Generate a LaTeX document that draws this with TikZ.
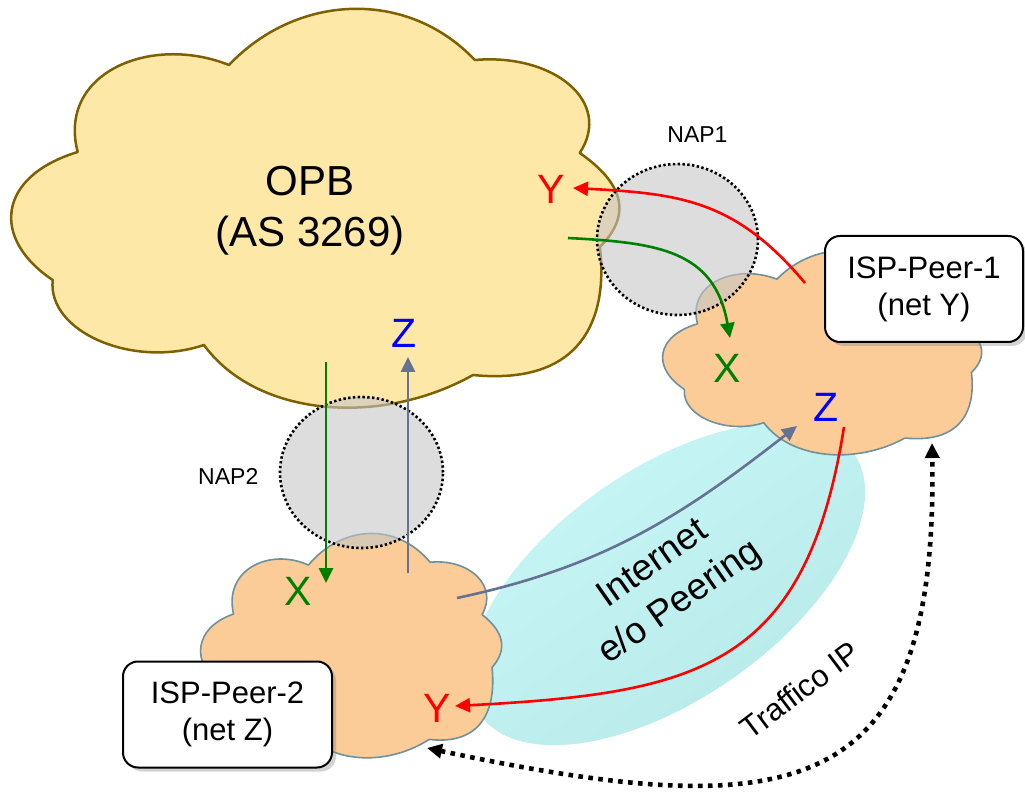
\documentclass[tikz,border=0pt]{standalone}
\usepackage{fontspec}
\setmainfont{Liberation Sans}
\usetikzlibrary{arrows.meta,positioning,shapes.geometric,shadows}
\definecolor{opbfill}{RGB}{254,232,168}
\definecolor{opbline}{RGB}{127,96,0}
\definecolor{peerfill}{RGB}{251,203,152}
\definecolor{peerline}{RGB}{110,145,155}
\definecolor{napgray}{RGB}{198,198,198}
\definecolor{cyanlight}{RGB}{200,247,247}
\definecolor{cyandark}{RGB}{184,233,233}
\definecolor{darkgreen}{RGB}{0,128,0}
\definecolor{slateblue}{RGB}{102,114,148}

% cloud outline in a 100x100 box, y pointing down
\newcommand{\cloudoutline}{(11.1,36) .. controls (7.7,16.2) and (23.1,6.45) .. (35.9,14.25)
  .. controls (47.0,-3.6) and (65.1,-4.9) .. (76.2,13)
  .. controls (89.1,11.3) and (98.9,23.4) .. (93.4,36.25)
  .. controls (100.3,43.55) and (102.2,51.35) .. (96.7,59.75)
  .. controls (98.1,77.75) and (93.7,94.45) .. (75.9,91.75)
  .. controls (60.7,104.75) and (40.4,102.25) .. (31.8,84.25)
  .. controls (20.2,90.2) and (6.1,81) .. (7,68)
  .. controls (-3.15,57.7) and (-2.1,42.1) .. (11.1,36) -- cycle}

\begin{document}
\begin{tikzpicture}[x=0.5pt, y=0.5pt, >={Triangle[length=7.5pt,width=7pt]}, line join=round,]
   \tikzstyle{opbcloud}=[fill=opbfill, draw=opbline, line width=1.25pt]
   \tikzstyle{peercloud}=[fill=peerfill, draw=peerline, line width=.8pt]
   \tikzstyle{nap}=[ellipse, inner sep=0pt, fill=napgray, fill opacity=.6, draw=black, line width=1.3pt, dash pattern=on 1.2pt off 1.2pt, minimum width=80.5pt, minimum height=75.5pt]
   \tikzstyle{naplbl}=[inner sep=0pt, font=\fontsize{11.5pt}{14pt}\selectfont]
   \tikzstyle{net}=[inner sep=0pt, font=\fontsize{20.5pt}{24pt}\selectfont]
   \tikzstyle{isp}=[rectangle, rounded corners=7.5pt, draw=black, line width=1pt, fill=white, drop shadow={opacity=.35, shadow xshift=2pt, shadow yshift=-2pt}, align=center, font=\fontsize{15.5pt}{18.5pt}\selectfont, minimum height=53pt]
   \tikzstyle{flow}=[->, line width=1.3pt]

   \useasboundingbox (0,0) rectangle (1025,-797);

   % peering area
   \node[ellipse, rotate=35, minimum width=228pt, minimum height=115pt, top color=cyanlight, bottom color=cyandark, shading angle=35, align=center, font=\fontsize{18.5pt}{23.5pt}\selectfont] (peering) at (667,-584) {Internet\\e/o Peering};

   % clouds
   \begin{scope}[shift={(10,-8)}, xscale=6.1, yscale=-4]
     \draw[opbcloud] \cloudoutline;
   \end{scope}
   \begin{scope}[shift={(662,-250)}, xscale=3.2, yscale=-2.05]
     \draw[peercloud] \cloudoutline;
   \end{scope}
   \begin{scope}[shift={(200,-533)}, xscale=3.02, yscale=-2.25]
     \draw[peercloud] \cloudoutline;
   \end{scope}

   % exchange points
   \node[nap] (nap1) at (677.5,-239.5) {};
   \node[nap, minimum width=81.5pt] (nap2) at (361.5,-472.5) {};
   \node[naplbl, above=10pt of nap1, xshift=10pt] (nap1lbl) {NAP1};
   \node[naplbl, left=10pt of nap2, yshift=-2pt] (nap2lbl) {NAP2};

   % route ends
   \coordinate (gs1) at (568,-238);
   \coordinate (ge1) at (730,-338);
   \coordinate (rs1) at (805,-283);
   \coordinate (re1) at (573,-188);
   \coordinate (gs2) at (326,-362);
   \coordinate (ge2) at (326,-583);
   \coordinate (bs2) at (408,-573);
   \coordinate (be2) at (408,-357);
   \coordinate (bs3) at (457,-598);
   \coordinate (be3) at (797,-426);
   \coordinate (rs3) at (844,-427);
   \coordinate (re3) at (455,-706);
   \coordinate (tr2) at (427,-748);
   \coordinate (tr1) at (932,-443);

   \draw[flow, red] (rs1) to[out=130, in=-3, looseness=1.1] (re1);
   \draw[flow, darkgreen] (gs1) to[out=-3, in=100, looseness=1.2] (ge1);
   \draw[flow, darkgreen] (gs2) -- (ge2);
   \draw[flow, slateblue] (bs2) -- (be2);
   \draw[flow, slateblue] (bs3) to[out=12, in=218] (be3);
   \draw[flow, red] (rs3) to[out=-99, in=3, looseness=1.3] (re3);
   \draw[<->, line width=2.3pt, dash pattern=on 2.3pt off 2.7pt] (tr2) to[out=-12, in=-89, out distance=191pt, in distance=178pt] (tr1);

   % texts
   \node[align=center, font=\fontsize{21pt}{25.5pt}\selectfont] (opb) at (310,-211) {OPB\\(AS 3269)};
   \node[net, red] (yopb) at (551,-189) {Y};
   \node[net, blue] (zopb) at (404,-333) {Z};
   \node[net, darkgreen] (xpeer1) at (727,-368) {X};
   \node[net, blue] (zpeer1) at (826,-407) {Z};
   \node[net, darkgreen] (xpeer2) at (298,-591) {X};
   \node[net, red] (ypeer2) at (437,-708) {Y};
   \node[rotate=37, font=\fontsize{15.5pt}{18pt}\selectfont] (traffico) at (800,-690) {Traffico IP};

   \node[isp, minimum width=99pt] (isp1) at (924,-289) {ISP-Peer-1\\(net Y)};
   \node[isp, minimum width=104.5pt] (isp2) at (227.5,-714.5) {ISP-Peer-2\\(net Z)};
\end{tikzpicture}
\end{document}
